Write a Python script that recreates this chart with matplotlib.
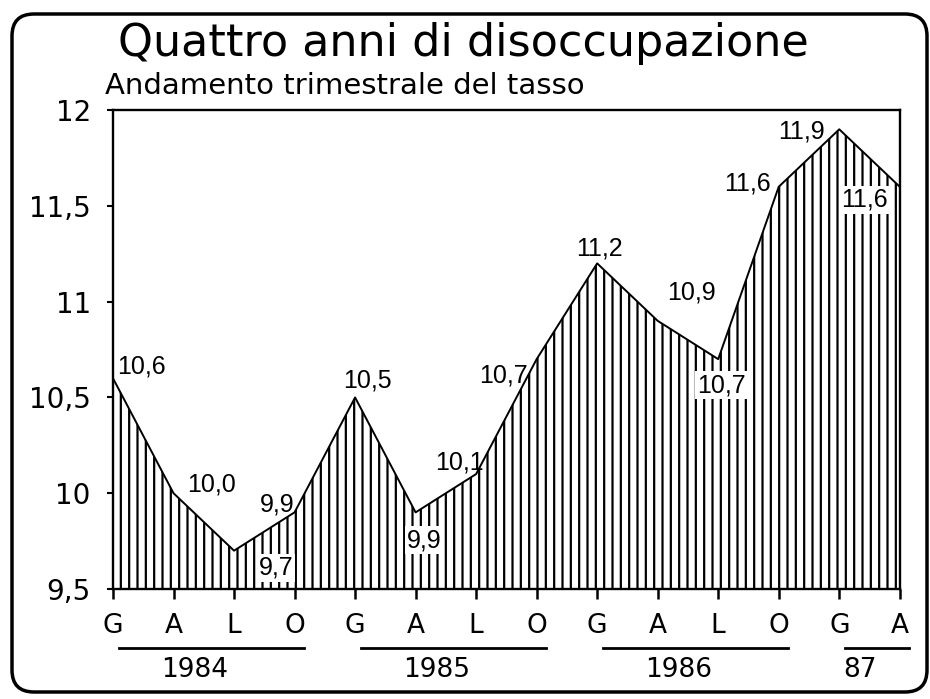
import matplotlib
matplotlib.use('Agg')
import matplotlib.pyplot as plt
import matplotlib.transforms as mtransforms
from matplotlib.patches import FancyBboxPatch
import numpy as np

plt.rcParams['font.family'] = ['DejaVu Sans']
plt.rcParams['hatch.linewidth'] = 1.6
plt.rcParams['hatch.color'] = 'black'

# dati: tasso di disoccupazione trimestrale (%)
quarters = ['G', 'A', 'L', 'O', 'G', 'A', 'L', 'O', 'G', 'A', 'L', 'O', 'G', 'A']
rate = [10.6, 10.0, 9.7, 9.9, 10.5, 9.9, 10.1, 10.7, 11.2, 10.9, 10.7, 11.6, 11.9, 11.6]
years = ['1984', '1985', '1986', '87']
year_quarters = [4, 4, 4, 2]
yticks = [9.5, 10, 10.5, 11, 11.5, 12]

fig = plt.figure(figsize=(9.3, 6.99), dpi=100)
ax = fig.add_axes([0.1215, 0.1574, 0.846, 0.685])

x = np.arange(len(rate))
ax.fill_between(x, rate, 9.5, facecolor='white', edgecolor='black',
                hatch='||', linewidth=0)
ax.plot(x, rate, color='black', lw=1.4)

ax.set_xlim(0, len(rate) - 1)
ax.set_ylim(9.5, 12)
for s in ax.spines.values():
    s.set_linewidth(1.7)

ax.set_yticks(yticks)
ax.set_yticklabels([f'{v:g}'.replace('.', ',') for v in yticks], fontsize=20)
ax.set_xticks(x)
ax.set_xticklabels(quarters, fontsize=19)
ax.tick_params(axis='y', length=4, width=1.5, pad=12)
ax.tick_params(axis='x', length=7, width=1.8, pad=10)

# etichette dei valori (offset in pixel, alcune dentro l'area tratteggiata)
offsets = [(28, 12), (38, 9), (42, -17), (-17, 8), (12, 17), (9, -28), (-17, 12),
           (-33, -16), (2, 15), (34, 28), (3, -26), (-31, 3), (-38, -2), (-35, -13)]
inside = [2, 5, 10, 13]
for i, (v, off) in enumerate(zip(rate, offsets)):
    box = dict(facecolor='white', edgecolor='none', pad=1.5) if i in inside else None
    ax.annotate(f'{v:.1f}'.replace('.', ','), (x[i], v), xytext=off,
                textcoords='offset pixels', ha='center', va='center',
                fontsize=18, family=['Liberation Sans Narrow', 'Liberation Sans'],
                bbox=box)

# anni sotto l'asse
trans = mtransforms.blended_transform_factory(ax.transData, fig.transFigure)
start = 0
for yr, n in zip(years, year_quarters):
    x0, x1 = start + 0.1, start + n - 0.85
    ax.plot([x0, x1], [0.073, 0.073], color='black', lw=2,
            transform=trans, clip_on=False)
    ax.text(start + (n - 1) / 2 - 0.15, 0.042, yr, transform=trans,
            ha='center', va='center', fontsize=19)
    start += n

fig.text(0.127, 0.920, 'Quattro anni di disoccupazione', fontsize=32,
         ha='left', va='baseline')
fig.text(0.113, 0.866, 'Andamento trimestrale del tasso', fontsize=21,
         ha='left', va='baseline')

# cornice arrotondata
frame = FancyBboxPatch((0.12, 0.07), 9.15, 6.78,
                       boxstyle='round,pad=0,rounding_size=0.22',
                       transform=fig.dpi_scale_trans, facecolor='none',
                       edgecolor='black', lw=2.5)
fig.patches.append(frame)

fig.savefig('out.png', dpi=100)
